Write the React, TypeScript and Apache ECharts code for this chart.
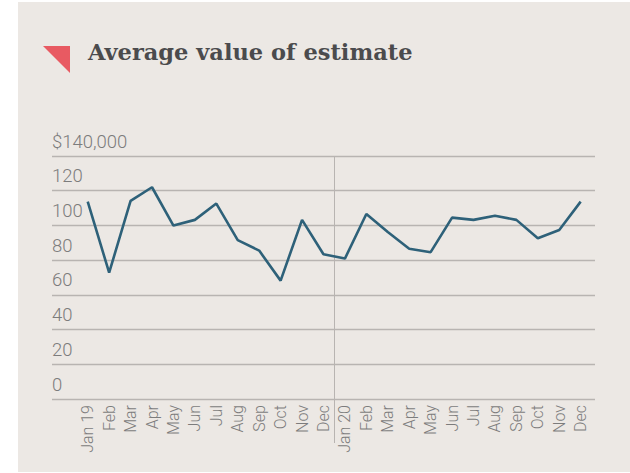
import React, { useEffect, useRef } from "react";
import * as echarts from "echarts";

const months = ["Jan 19", "Feb", "Mar", "Apr", "May", "Jun", "Jul", "Aug", "Sep", "Oct", "Nov", "Dec",
  "Jan 20", "Feb", "Mar", "Apr", "May", "Jun", "Jul", "Aug", "Sep", "Oct", "Nov", "Dec"];
const avgValue = [113.7, 72.8, 114.1, 122.0, 99.9, 103.2, 112.6, 91.5, 85.5, 68.2, 103.2, 83.4,
  80.9, 106.6, 96.2, 86.6, 84.6, 104.5, 103.2, 105.6, 103.2, 92.6, 97.4, 113.7];
const yTickLabels: Record<number, string> = { 0: "0", 20: "20", 40: "40", 60: "60", 80: "80", 100: "100", 120: "120", 140: "$140,000" };
const yearBreakIndex = 12;

const BG = "#ece8e4";
const GRID = "#b8b4b1";
const LABEL = "#7c7c7c";

export default function App() {
  const ref = useRef<HTMLDivElement>(null);
  useEffect(() => {
    document.body.style.margin = "0";
    const chart = echarts.init(ref.current!, null, { renderer: "svg" });
    chart.setOption({
      animation: false,
      backgroundColor: "#ffffff",
      graphic: [
        { type: "rect", left: 18, top: 2, shape: { width: 612, height: 470 }, style: { fill: BG }, z: -10, silent: true },
        { type: "polygon", shape: { points: [[43, 46], [70, 46], [70, 73]] }, style: { fill: "#e85a62" } },
        { type: "text", left: 88, top: 40, style: { text: "Average value of estimate", font: "bold 22.5px 'DejaVu Serif'", fill: "#4b4b4d" } },
      ],
      grid: [
        { left: 52, right: 35, top: 156, bottom: 74 },
        { left: 77, right: 38.6, top: 156, bottom: 74 },
      ],
      xAxis: [
        { gridIndex: 0, type: "value", show: false, min: 0, max: 1 },
        {
          gridIndex: 1,
          type: "category",
          data: months,
          boundaryGap: true,
          axisLine: { show: false },
          axisTick: { show: false },
          splitLine: { show: false },
          axisLabel: { interval: 0, rotate: 90, margin: 6, color: LABEL, fontFamily: "Roboto", fontWeight: 300, fontSize: 16 },
        },
        {
          gridIndex: 1,
          type: "value",
          min: -0.5,
          max: months.length - 0.5,
          position: "bottom",
          axisLine: { show: false },
          axisLabel: { show: false },
          axisTick: { show: true, customValues: [yearBreakIndex - 0.5], length: 44, lineStyle: { color: GRID, width: 1 } },
          splitLine: { show: true, lineStyle: { color: GRID, width: 1 } },
        },
      ],
      yAxis: [
        {
          gridIndex: 0,
          type: "value",
          min: 0,
          max: 140,
          interval: 20,
          axisLine: { show: false },
          axisTick: { show: false },
          splitLine: { show: true, lineStyle: { color: GRID, width: 1.3 } },
          axisLabel: {
            inside: true,
            align: "left",
            verticalAlign: "bottom",
            margin: 0,
            padding: [0, 0, 5, 0],
            color: LABEL,
            fontFamily: "Roboto",
            fontWeight: 300,
            fontSize: 18.5,
            formatter: (v: number) => yTickLabels[v] ?? String(v),
          },
        },
        { gridIndex: 1, type: "value", min: 0, max: 140, show: false, splitLine: { show: false } },
      ],
      series: [
        {
          type: "line",
          xAxisIndex: 1,
          yAxisIndex: 1,
          data: avgValue,
          symbol: "none",
          lineStyle: { color: "#2e6179", width: 2.6 },
        },
      ],
    });
    return () => chart.dispose();
  }, []);
  return <div ref={ref} style={{ width: 630, height: 473 }} />;
}
